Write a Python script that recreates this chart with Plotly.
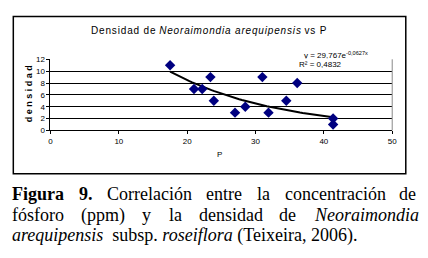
import numpy as np
import plotly.graph_objects as go

# Data
phosphorus = [17.5, 21.0, 22.2, 23.4, 23.9, 27.0, 28.5, 31.0, 31.9, 34.5, 36.1, 41.35, 41.35]
density = [11, 7, 7, 9, 5, 3, 4, 9, 3, 5, 8, 2, 1]
trend_a = 29.767
trend_b = -0.0627
x_ticks = [0, 10, 20, 30, 40, 50]
y_ticks = [0, 2, 4, 6, 8, 10, 12]

W, H = 428, 258
def px(x):
    return x / W
def py(y):
    return 1 - y / H

HS = "\u200a"  # hair space for letter spacing
def spaced(s):
    return HS.join(list(s))

xs = np.linspace(min(phosphorus), max(phosphorus), 60)
ys = trend_a * np.exp(trend_b * xs)

fig = go.Figure()
fig.add_trace(go.Scatter(x=xs, y=ys, mode="lines", line=dict(color="black", width=2),
                         hoverinfo="skip"))
fig.add_trace(go.Scatter(x=phosphorus, y=density, mode="markers",
                         marker=dict(symbol="diamond", size=8, color="#000080")))

fig.update_layout(
    width=W, height=H, margin=dict(l=0, r=0, t=0, b=0),
    paper_bgcolor="white", plot_bgcolor="white", showlegend=False,
    font=dict(family="Liberation Sans, Arial", size=8, color="black"),
    xaxis=dict(domain=[px(49.3), px(396.7)], range=[0, 50], tickvals=x_ticks,
               showgrid=False, zeroline=False, showline=True, linecolor="black",
               linewidth=1, ticks="outside", ticklen=3, tickcolor="black",
               tickfont=dict(size=8), mirror=False),
    yaxis=dict(domain=[py(131), py(57.3)], range=[0, 12], tickvals=y_ticks,
               showgrid=True, gridcolor="black", gridwidth=1, zeroline=False,
               showline=True, linecolor="black", linewidth=1, ticks="outside",
               ticklen=3, tickcolor="black", tickfont=dict(size=8)),
)

shapes = [
    dict(type="line", xref="paper", yref="paper", x0=px(396.7), x1=px(396.7),
         y0=py(131), y1=py(57.3), line=dict(color="#888888", width=1)),
    dict(type="rect", xref="paper", yref="paper", x0=px(11.5), x1=px(410.5),
         y0=py(176), y1=py(13), line=dict(color="black", width=1.5)),
]
fig.update_layout(shapes=shapes)

def note(text, x, y, size=8, xanchor="center", yanchor="middle", **kw):
    d = dict(text=text, x=px(x), y=py(y), xref="paper", yref="paper",
             xanchor=xanchor, yanchor=yanchor, showarrow=False, font=dict(size=size))
    d.update(kw)
    return d

title = (spaced("Densidad de ") + "<i>" + spaced("Neoraimondia arequipensis") + "</i>"
         + spaced(" vs P"))

ann = []
ann.append(note(title, 210, 27, size=10))
ann.append(note("y = 29,767e<sup>-0,0627x</sup>", 305, 53, xanchor="left"))
ann.append(note("R² = 0,4832", 300, 62.5, xanchor="left", bgcolor="white"))
ann.append(note("<b>" + " ".join("densidad") + "</b>", 27, 93, size=9, textangle=-90))
ann.append(note("P", 221, 156))

# ---- Caption, justified using Times (Liberation Serif) advance widths ----
ROMAN = dict(zip("abcdefghilmnoprstuyCTó(),.0269 ",
                 [444, 500, 444, 500, 444, 333, 500, 500, 278, 278, 778, 500, 500, 500,
                  333, 389, 278, 500, 500, 667, 611, 500, 333, 333, 250, 250,
                  500, 500, 500, 500, 250]))
BOLD = dict(zip("Figura9.", [611, 278, 500, 556, 444, 500, 500, 250]))
ITAL = dict(zip("Neoraimndqupsl", [667, 444, 500, 389, 500, 278, 722, 500, 500, 500,
                                  500, 500, 389, 278]))
CAP_SIZE = 18
def wwidth(word, style):
    table = {"r": ROMAN, "b": BOLD, "i": ITAL}[style]
    return sum(table.get(ch, 500) for ch in word) * CAP_SIZE / 1000.0

def wrap(word, style):
    return {"r": word, "b": "<b>" + word + "</b>", "i": "<i>" + word + "</i>"}[style]

cap_font = dict(family="Liberation Serif, Times New Roman", size=CAP_SIZE, color="black")
LEFT, RIGHT = 8.5, 419
line1 = [("Figura", "b"), ("9.", "b"), ("Correlación", "r"), ("entre", "r"), ("la", "r"),
         ("concentración", "r"), ("de", "r")]
line2 = [("fósforo", "r"), ("(ppm)", "r"), ("y", "r"), ("la", "r"), ("densidad", "r"),
         ("de", "r"), ("Neoraimondia", "i")]
for words, yc in [(line1, 197), (line2, 219)]:
    widths = [wwidth(w, s) for w, s in words]
    gap = (RIGHT - LEFT - sum(widths)) / (len(words) - 1)
    xcur = LEFT
    for (w, s), wd in zip(words, widths):
        ann.append(note(wrap(w, s), xcur, yc, xanchor="left", font=cap_font))
        xcur += wd + gap
ann.append(note("<i>arequipensis</i>  subsp. <i>roseiflora</i> (Teixeira, 2006).",
                LEFT, 240, xanchor="left", font=cap_font))

fig.update_layout(annotations=ann)

fig.write_html("out.html", config={"displayModeBar": False},
               post_script="document.body.style.margin='0';")
